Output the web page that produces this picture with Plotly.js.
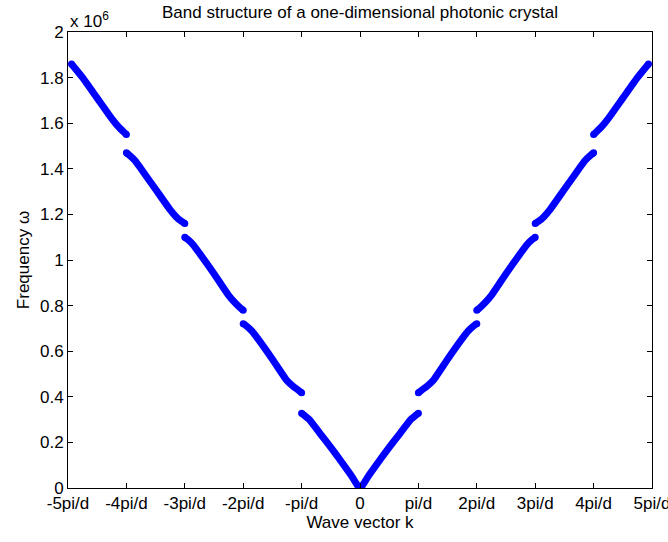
<!DOCTYPE html>
<html>
<head>
<meta charset="utf-8">
<script src="https://cdn.plot.ly/plotly-3.0.1.min.js"></script>
<style>html,body{margin:0;padding:0;background:#fff;}#chart{width:668px;height:542px;}</style>
</head>
<body>
<div id="chart"></div>
<script>
// Wave vector k in units of pi/d, frequency in units of 1e6
var band1K = [-1.0, -0.95, -0.86, -0.69, -0.5, -0.34, -0.15, 0, 0.15, 0.34, 0.5, 0.69, 0.86, 0.95, 1.0];
var band1W = [0.328, 0.318, 0.298, 0.241, 0.178, 0.123, 0.055, 0.0, 0.055, 0.123, 0.178, 0.241, 0.298, 0.318, 0.328];

var band2K = [-2.0, -1.95, -1.85, -1.75, -1.5, -1.26, -1.15, -1.05, -1.0];
var band2W = [0.72, 0.712, 0.688, 0.655, 0.565, 0.474, 0.447, 0.428, 0.418];
var band2Kp = [1.0, 1.05, 1.15, 1.26, 1.5, 1.75, 1.85, 1.95, 2.0];
var band2Wp = [0.418, 0.428, 0.447, 0.474, 0.565, 0.655, 0.688, 0.712, 0.72];

var band3K = [-3.0, -2.95, -2.85, -2.75, -2.5, -2.25, -2.15, -2.05, -2.0];
var band3W = [1.10, 1.09, 1.065, 1.03, 0.94, 0.845, 0.815, 0.79, 0.78];
var band3Kp = [2.0, 2.05, 2.15, 2.25, 2.5, 2.75, 2.85, 2.95, 3.0];
var band3Wp = [0.78, 0.79, 0.815, 0.845, 0.94, 1.03, 1.065, 1.09, 1.10];

var band4K = [-4.0, -3.95, -3.85, -3.75, -3.5, -3.25, -3.15, -3.07, -3.0];
var band4W = [1.47, 1.46, 1.435, 1.40, 1.31, 1.22, 1.19, 1.172, 1.16];
var band4Kp = [3.0, 3.07, 3.15, 3.25, 3.5, 3.75, 3.85, 3.95, 4.0];
var band4Wp = [1.16, 1.172, 1.19, 1.22, 1.31, 1.40, 1.435, 1.46, 1.47];

var band5K = [-4.94, -4.75, -4.5, -4.25, -4.15, -4.05, -4.0];
var band5W = [1.86, 1.80, 1.71, 1.62, 1.588, 1.562, 1.55];
var band5Kp = [4.0, 4.05, 4.15, 4.25, 4.5, 4.75, 4.94];
var band5Wp = [1.55, 1.562, 1.588, 1.62, 1.71, 1.80, 1.86];

var xTickVals = [-5, -4, -3, -2, -1, 0, 1, 2, 3, 4, 5];
var xTickText = ['-5pi/d', '-4pi/d', '-3pi/d', '-2pi/d', '-pi/d', '0', 'pi/d', '2pi/d', '3pi/d', '4pi/d', '5pi/d'];
var yTickVals = [0, 0.2, 0.4, 0.6, 0.8, 1, 1.2, 1.4, 1.6, 1.8, 2];
var yTickText = ['0', '0.2', '0.4', '0.6', '0.8', '1', '1.2', '1.4', '1.6', '1.8', '2'];

var segments = [
  [band5K, band5W], [band4K, band4W], [band3K, band3W], [band2K, band2W],
  [band1K, band1W],
  [band2Kp, band2Wp], [band3Kp, band3Wp], [band4Kp, band4Wp], [band5Kp, band5Wp]
];

var traces = segments.map(function (s) {
  return {
    x: s[0], y: s[1], type: 'scatter', mode: 'lines',
    line: {color: '#0000ff', width: 7, shape: 'spline', smoothing: 0.5},
    hoverinfo: 'skip', showlegend: false
  };
});
// rounded ends of each band segment
segments.forEach(function (s) {
  var n = s[0].length;
  traces.push({
    x: [s[0][0], s[0][n - 1]], y: [s[1][0], s[1][n - 1]], type: 'scatter', mode: 'markers',
    marker: {color: '#0000ff', size: 7}, hoverinfo: 'skip', showlegend: false, cliponaxis: false
  });
});

var fnt = {family: '"Liberation Sans", Arial, sans-serif', size: 17, color: '#000'};

var layout = {
  width: 668, height: 542,
  margin: {l: 68, r: 16, t: 32, b: 54},
  paper_bgcolor: '#fff', plot_bgcolor: '#fff',
  font: fnt,
  showlegend: false,
  title: {text: 'Band structure of a one-dimensional photonic crystal', font: fnt,
          x: 0.5, xref: 'paper', xanchor: 'center', y: 0.978, yref: 'container', yanchor: 'middle'},
  xaxis: {
    range: [-5.00001, 5.00001], tickvals: xTickVals, ticktext: xTickText,
    ticks: 'inside', ticklen: 5, tickcolor: '#000', showline: true, linecolor: '#000', linewidth: 1,
    mirror: 'allticks', showgrid: false, zeroline: false, tickfont: fnt, ticklabeloverflow: 'allow',
    title: {text: 'Wave vector k', font: fnt, standoff: 3}
  },
  yaxis: {
    range: [0, 2], tickvals: yTickVals, ticktext: yTickText,
    ticks: 'inside', ticklen: 5, tickcolor: '#000', showline: true, linecolor: '#000', linewidth: 1,
    mirror: 'allticks', showgrid: false, zeroline: false, tickfont: fnt,
    title: {text: 'Frequency ω', font: fnt, standoff: 6}
  },
  annotations: [{
    xref: 'paper', yref: 'paper', x: 0, y: 1, xanchor: 'left', yanchor: 'bottom',
    text: 'x 10<sup>6</sup>', showarrow: false, font: fnt, yshift: -1
  }]
};

Plotly.newPlot('chart', traces, layout, {displayModeBar: false, staticPlot: true});
</script>
</body>
</html>
